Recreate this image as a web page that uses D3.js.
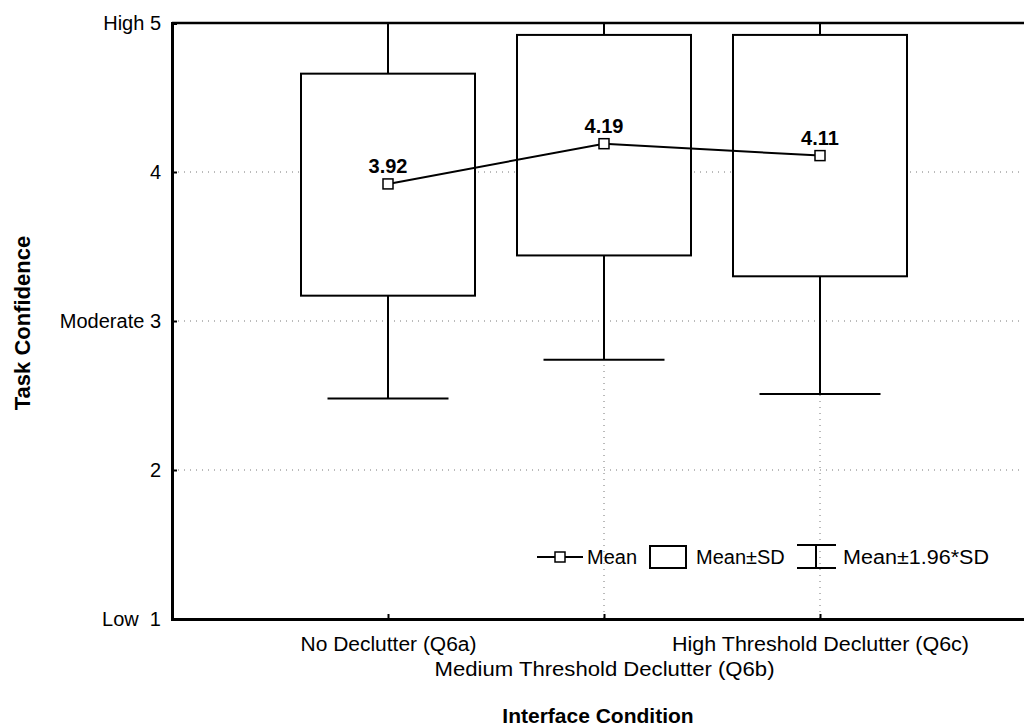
<!DOCTYPE html>
<html>
<head>
<meta charset="utf-8">
<script src="https://cdn.jsdelivr.net/npm/d3@7"></script>
<style>
  body { margin: 0; background: #fff; }
  text { font-family: "Liberation Sans", Arial, sans-serif; fill: #000; }
</style>
</head>
<body>
<svg id="chart" width="1024" height="728"></svg>
<script>
// values
const categories = ["No Declutter (Q6a)", "Medium Threshold Declutter (Q6b)", "High Threshold Declutter (Q6c)"];
const means = [3.92, 4.19, 4.11];
const sdLow = [3.17, 3.44, 3.30];
const sdHigh = [4.66, 4.92, 4.92];
const ciLow = [2.48, 2.74, 2.51];
const ciHigh = [5.38, 5.64, 5.70];
const yTicks = [1, 2, 3, 4, 5];
const yTickLabels = { 1: "Low\u00a0\u00a01", 2: "2", 3: "Moderate 3", 4: "4", 5: "High 5" };

const svg = d3.select("#chart");
const plotLeft = 172, plotTop = 23, plotBottom = 619;

// category i sits at position i+1 on a 0..4 axis
const x = d3.scaleLinear().domain([0, 4]).range([plotLeft, plotLeft + 4 * 216]);
const y = d3.scaleLinear().domain([1, 5]).range([plotBottom, plotTop]);

const boxW = 174, capW = 121;

svg.append("defs").append("clipPath").attr("id", "plot")
  .append("rect").attr("x", plotLeft).attr("y", plotTop)
  .attr("width", 1024 - plotLeft).attr("height", plotBottom - plotTop);

// grid
const grid = svg.append("g").attr("stroke", "#777").attr("stroke-width", 1).attr("stroke-dasharray", "1,5");
grid.selectAll("line.h").data([2, 3, 4]).join("line").attr("class", "h")
  .attr("x1", plotLeft).attr("x2", 1024).attr("y1", d => y(d)).attr("y2", d => y(d));
grid.selectAll("line.v").data([1, 2]).join("line").attr("class", "v")
  .attr("x1", d => x(d + 1)).attr("x2", d => x(d + 1)).attr("y1", plotTop).attr("y2", plotBottom);

const plot = svg.append("g").attr("clip-path", "url(#plot)");
const idx = categories.map((_, i) => i);

// whiskers
plot.selectAll("line.wh").data(idx).join("line").attr("class", "wh")
  .attr("x1", i => x(i + 1)).attr("x2", i => x(i + 1))
  .attr("y1", i => y(ciLow[i])).attr("y2", i => y(ciHigh[i]))
  .attr("stroke", "#000").attr("stroke-width", 2);
plot.selectAll("line.cap").data(idx).join("line").attr("class", "cap")
  .attr("x1", i => x(i + 1) - capW / 2).attr("x2", i => x(i + 1) + capW / 2)
  .attr("y1", i => y(ciLow[i])).attr("y2", i => y(ciLow[i]))
  .attr("stroke", "#000").attr("stroke-width", 2);

// boxes
plot.selectAll("rect.box").data(idx).join("rect").attr("class", "box")
  .attr("x", i => x(i + 1) - boxW / 2).attr("width", boxW)
  .attr("y", i => y(sdHigh[i])).attr("height", i => y(sdLow[i]) - y(sdHigh[i]))
  .attr("fill", "#fff").attr("stroke", "#000").attr("stroke-width", 2);

// mean line
plot.append("path")
  .datum(idx)
  .attr("d", d3.line().x(i => x(i + 1)).y(i => y(means[i])))
  .attr("fill", "none").attr("stroke", "#000").attr("stroke-width", 2);
plot.selectAll("rect.mk").data(idx).join("rect").attr("class", "mk")
  .attr("x", i => x(i + 1) - 5).attr("y", i => y(means[i]) - 5)
  .attr("width", 10).attr("height", 10)
  .attr("fill", "#fff").attr("stroke", "#000").attr("stroke-width", 1.5);
svg.selectAll("text.val").data(idx).join("text").attr("class", "val")
  .attr("x", i => x(i + 1)).attr("y", i => y(means[i]) - 11)
  .attr("text-anchor", "middle").attr("font-size", 20).attr("font-weight", "bold")
  .text(i => means[i].toFixed(2));

// frame
svg.append("line").attr("x1", plotLeft).attr("x2", 1024).attr("y1", plotTop).attr("y2", plotTop)
  .attr("stroke", "#000").attr("stroke-width", 2.5);

// axes
const yAxis = d3.axisLeft(y).tickValues(yTicks).tickSize(-5).tickPadding(11)
  .tickFormat(d => yTickLabels[d]);
const ya = svg.append("g").attr("transform", `translate(${plotLeft},0)`).call(yAxis);
ya.select(".domain").attr("stroke-width", 3);
ya.selectAll("line").attr("stroke-width", 2);
ya.selectAll("text").attr("font-size", 20).attr("font-family", "Liberation Sans, Arial, sans-serif");

const xAxis = d3.axisBottom(x).tickValues([1, 2, 3]).tickSize(-5).tickSizeOuter(0).tickPadding(18)
  .tickFormat(d => categories[d - 1]);
const xa = svg.append("g").attr("transform", `translate(0,${plotBottom})`).call(xAxis);
xa.select(".domain").attr("stroke-width", 3);
xa.selectAll("line").attr("stroke-width", 2);
xa.selectAll("text").attr("font-size", 20).attr("font-family", "Liberation Sans, Arial, sans-serif")
  .attr("textLength", (d, i) => [176, 340, 297][i]).attr("lengthAdjust", "spacingAndGlyphs")
  .attr("dy", (d, i) => i === 1 ? "1.95em" : "0.71em");

// axis titles
svg.append("text").attr("x", 598).attr("y", 723).attr("text-anchor", "middle")
  .attr("font-size", 21).attr("font-weight", "bold").text("Interface Condition");
svg.append("text").attr("transform", "translate(30,323) rotate(-90)").attr("text-anchor", "middle")
  .attr("font-size", 22).attr("font-weight", "bold").text("Task Confidence");

// legend
const lg = svg.append("g").attr("transform", "translate(0,557)");
lg.append("line").attr("x1", 537).attr("x2", 583).attr("stroke", "#000").attr("stroke-width", 2);
lg.append("rect").attr("x", 555).attr("y", -5).attr("width", 10).attr("height", 10)
  .attr("fill", "#fff").attr("stroke", "#000").attr("stroke-width", 1.5);
lg.append("text").attr("x", 587).attr("y", 7).attr("font-size", 20).text("Mean");
lg.append("rect").attr("x", 650).attr("y", -11).attr("width", 36).attr("height", 22)
  .attr("fill", "#fff").attr("stroke", "#000").attr("stroke-width", 2);
lg.append("text").attr("x", 696).attr("y", 7).attr("font-size", 20).text("Mean±SD");
lg.append("line").attr("x1", 797).attr("x2", 836).attr("y1", -12).attr("y2", -12).attr("stroke", "#000").attr("stroke-width", 2);
lg.append("line").attr("x1", 797).attr("x2", 836).attr("y1", 11).attr("y2", 11).attr("stroke", "#000").attr("stroke-width", 2);
lg.append("line").attr("x1", 816).attr("x2", 816).attr("y1", -12).attr("y2", 11).attr("stroke", "#000").attr("stroke-width", 2);
lg.append("text").attr("x", 843).attr("y", 7).attr("font-size", 20).attr("textLength", 146)
  .attr("lengthAdjust", "spacingAndGlyphs").text("Mean±1.96*SD");
</script>
</body>
</html>
